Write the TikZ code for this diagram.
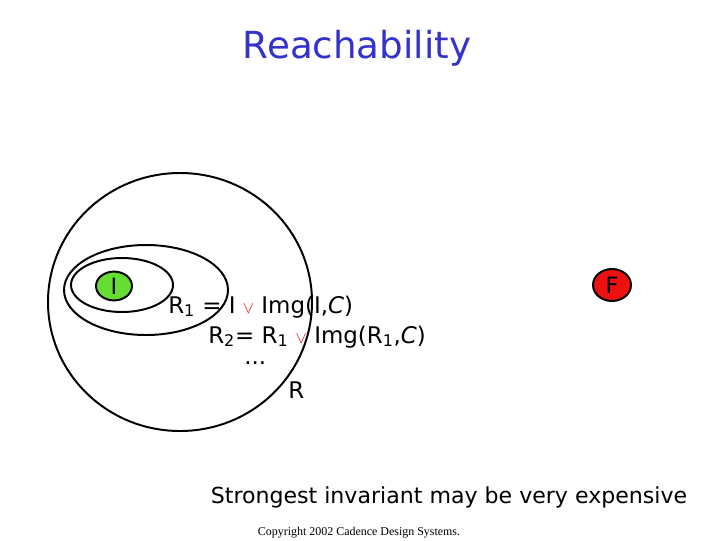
\documentclass[tikz,border=0pt]{standalone}
\usepackage{fontspec}
\setmainfont{DejaVu Sans}
\newfontfamily\copyfont{Liberation Serif}
\usetikzlibrary{shapes.geometric}
\definecolor{titleblue}{RGB}{51,51,204}
\definecolor{initgreen}{RGB}{102,221,51}
\definecolor{badred}{RGB}{238,17,17}
\tikzset{
  setline/.style={line width=1.4pt},
  statenode/.style={draw, ellipse, line width=1.4pt, inner sep=0pt, font=\fontsize{16}{18}\selectfont},
  formula/.style={anchor=west, font=\fontsize{16.3}{18}\selectfont, inner sep=0pt}
}
\newcommand{\orop}{\textcolor{badred}{\fontsize{13}{14}\selectfont$\vee$}}
\begin{document}
\begin{tikzpicture}[x=0.025cm, y=-0.025cm]
\useasboundingbox (0,0) rectangle (720,540);

% Titre
\node[font=\fontsize{26.5}{30}\selectfont, text=titleblue] (title) at (357,48) {Reachability};

% Ensembles atteignables
\draw[setline] (180,302) ellipse [x radius=132, y radius=129];
\draw[setline] (146,290) ellipse [x radius=82, y radius=45];
\draw[setline] (122,285) ellipse [x radius=51, y radius=27];

% Etats initial et mauvais
\node[statenode, fill=initgreen, minimum width=0.9cm, minimum height=0.72cm] (init) at (114,286) {I};
\node[statenode, fill=badred, minimum width=0.95cm, minimum height=0.8cm] (bad) at (612,285) {F};

% Formules
\node[formula] (rone) at (168,307) {R\textsubscript{1} = I \orop\ Img(I,\textit{C})};
\node[formula] (rtwo) at (208,337) {R\textsubscript{2}= R\textsubscript{1} \orop\ Img(R\textsubscript{1},\textit{C})};
\node[formula] (dots) at (244,363) {...};
\node[formula] (rfix) at (288,390) {R};

% Remarque
\node[font=\fontsize{15.7}{18}\selectfont] (note) at (449,497) {Strongest invariant may be very expensive};
\node[font=\copyfont\fontsize{8.5}{10}\selectfont] (copy) at (359,533) {Copyright 2002 Cadence Design Systems.};

\end{tikzpicture}
\end{document}
